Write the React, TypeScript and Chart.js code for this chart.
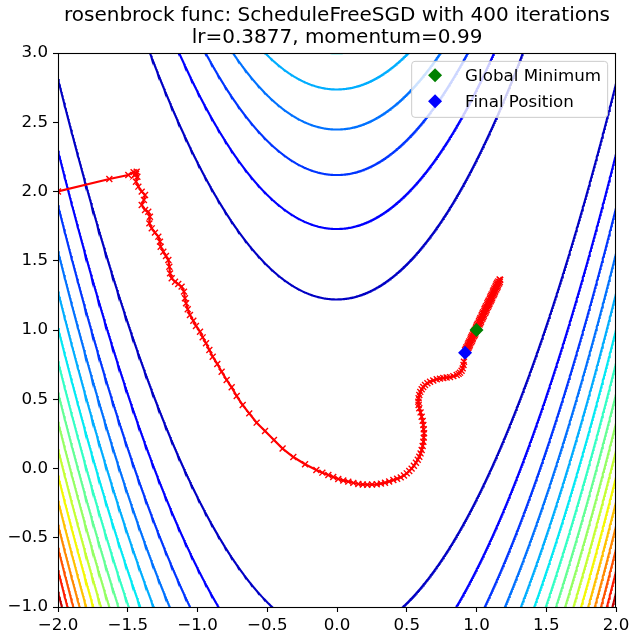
import React, { useEffect, useRef } from "react";
import { Chart, registerables } from "chart.js";

Chart.register(...registerables);

// ---- chart content ----
const TITLE_LINES = [
  "rosenbrock func: ScheduleFreeSGD with 400 iterations",
  "lr=0.3877, momentum=0.99",
];
const X_RANGE = [-2, 2];
const Y_RANGE = [-1, 3];
const TICK_STEP = 0.5;
const LEGEND_LABELS = ["Global Minimum", "Final Position"];

// contour levels of the Rosenbrock surface
const CONTOUR_LEVELS = [
  150, 300, 450, 600, 750, 900, 1050, 1200, 1350, 1500, 1650, 1800, 1950,
  2100, 2250, 2400,
];
// colour scale limits for the levels
const LEVEL_NORM = [0, 2550];

// optimiser trajectory
const PATH_X = [
  // start and descent down the left slope
  -2.0, -1.632, -1.496, -1.458, -1.44, -1.452, -1.436, -1.431, -1.441, -1.424,
  -1.4, -1.376, -1.384, -1.4, -1.376, -1.353, -1.341, -1.345, -1.328, -1.305,
  -1.281, -1.269, -1.264, -1.245, -1.226, -1.209, -1.202, -1.197, -1.185,
  -1.161, -1.138, -1.114, -1.097, -1.09, -1.082, -1.07, -1.054, -1.03, -1.011,
  -0.982, -0.963, -0.939, -0.915, -0.891, -0.858, -0.827, -0.791, -0.755,
  -0.719, -0.676, -0.629, -0.576, -0.516, -0.452, -0.39, -0.313, -0.229,
  // valley floor and S-bend
  -0.148, -0.105, -0.062, -0.027, 0.009, 0.045, 0.081, 0.117, 0.153, 0.185,
  0.217, 0.251, 0.285, 0.315, 0.344, 0.374, 0.404, 0.431, 0.457, 0.48, 0.5,
  0.518, 0.535, 0.551, 0.566, 0.579, 0.59, 0.599, 0.607, 0.614, 0.619, 0.622,
  0.624, 0.622, 0.619, 0.614, 0.607, 0.599, 0.59, 0.585, 0.583, 0.585, 0.59,
  0.597, 0.607, 0.618, 0.631, 0.648, 0.667, 0.69, 0.715, 0.738, 0.762, 0.786,
  0.81, 0.834, 0.858, 0.872, 0.882, 0.893, 0.901, 0.907, 0.91,
  // oscillation along the valley
  0.927, 0.923, 0.947, 0.943, 0.967, 0.963, 0.987, 0.983, 1.007, 1.003, 1.027,
  1.023, 1.047, 1.043, 1.067, 1.063, 1.087, 1.083, 1.107, 1.103, 1.127, 1.123,
  1.147, 1.143, 1.167, 1.166,
  1.148, 1.152, 1.128, 1.132, 1.108, 1.112, 1.088, 1.092, 1.068, 1.072, 1.048,
  1.052, 1.028, 1.032, 1.008, 1.012, 0.988, 0.992, 0.968, 0.972, 0.948, 0.952,
  0.928, 0.932,
  0.918, 0.942, 0.938, 0.962, 0.958, 0.982, 0.978, 1.002, 0.998, 1.022, 1.018,
  1.042, 1.038, 1.062, 1.058, 1.082, 1.078, 1.102, 1.098, 1.122, 1.118, 1.142,
  1.138, 1.162, 1.17,
  1.156, 1.154, 1.136, 1.134, 1.116, 1.114, 1.096, 1.094, 1.076, 1.074, 1.056,
  1.054, 1.036, 1.034, 1.016, 1.014, 0.996, 0.994, 0.976, 0.974, 0.956, 0.954,
  0.936, 0.934, 0.918,
];
const PATH_Y = [
  2.0, 2.09, 2.119, 2.14, 2.128, 2.118, 2.142, 2.107, 2.071, 2.035, 1.999,
  1.975, 1.939, 1.903, 1.866, 1.854, 1.818, 1.77, 1.734, 1.703, 1.674, 1.638,
  1.601, 1.565, 1.534, 1.505, 1.457, 1.409, 1.373, 1.349, 1.332, 1.313, 1.277,
  1.229, 1.193, 1.15, 1.108, 1.067, 1.029, 0.988, 0.947, 0.904, 0.856, 0.807,
  0.755, 0.699, 0.639, 0.586, 0.523, 0.458, 0.398, 0.331, 0.271, 0.206, 0.144,
  0.083, 0.031,
  -0.011, -0.03, -0.047, -0.062, -0.076, -0.086, -0.095, -0.104, -0.112,
  -0.115, -0.117, -0.116, -0.114, -0.109, -0.103, -0.094, -0.083, -0.074,
  -0.064, -0.05, -0.035, -0.018, -0.001, 0.02, 0.042, 0.063, 0.085, 0.109,
  0.134, 0.163, 0.193, 0.223, 0.254, 0.284, 0.314, 0.344, 0.374, 0.405, 0.435,
  0.458, 0.482, 0.507, 0.531, 0.553, 0.572, 0.589, 0.603, 0.616, 0.627, 0.636,
  0.644, 0.649, 0.653, 0.657, 0.66, 0.667, 0.675, 0.683, 0.692, 0.706, 0.723,
  0.747, 0.771,
  0.837, 0.864, 0.88, 0.907, 0.922, 0.949, 0.964, 0.992, 1.007, 1.034, 1.049,
  1.076, 1.092, 1.119, 1.134, 1.161, 1.176, 1.204, 1.219, 1.246, 1.261, 1.288,
  1.304, 1.331, 1.346, 1.364,
  1.341, 1.314, 1.299, 1.272, 1.257, 1.229, 1.214, 1.187, 1.172, 1.145, 1.129,
  1.102, 1.087, 1.06, 1.045, 1.017, 1.002, 0.975, 0.96, 0.933, 0.917, 0.89,
  0.875, 0.848,
  0.854, 0.869, 0.896, 0.911, 0.939, 0.954, 0.981, 0.996, 1.023, 1.039, 1.066,
  1.081, 1.108, 1.123, 1.151, 1.166, 1.193, 1.208, 1.235, 1.251, 1.278, 1.293,
  1.32, 1.335, 1.362,
  1.351, 1.326, 1.309, 1.283, 1.266, 1.241, 1.224, 1.199, 1.181, 1.156, 1.139,
  1.114, 1.097, 1.071, 1.054, 1.029, 1.012, 0.987, 0.969, 0.944, 0.927, 0.902,
  0.885, 0.859, 0.836,
];
const GLOBAL_MIN = { x: 1.0, y: 1.0 };

// ---- styling ----
const FONT = '"DejaVu Sans", "Liberation Sans", sans-serif';
const FONT_SIZE = 16.7;
const TITLE_SIZE = 20;
const TRAJ_COLOR = "#ff0000";
const MIN_COLOR = "#008000";
const FINAL_COLOR = "#0000ff";
const DIAMOND_R = 7;

// matplotlib "jet" colormap
const JET: Record<string, [number, number][]> = {
  r: [[0, 0], [0.35, 0], [0.66, 1], [0.89, 1], [1, 0.5]],
  g: [[0, 0], [0.125, 0], [0.375, 1], [0.64, 1], [0.91, 0], [1, 0]],
  b: [[0, 0.5], [0.11, 1], [0.34, 1], [0.65, 0], [1, 0]],
};
function jetChannel(stops: [number, number][], t: number) {
  for (let i = 1; i < stops.length; i++) {
    const [x0, y0] = stops[i - 1];
    const [x1, y1] = stops[i];
    if (t <= x1) return y0 + ((t - x0) / (x1 - x0)) * (y1 - y0);
  }
  return stops[stops.length - 1][1];
}
function jet(t: number) {
  const c = Math.max(0, Math.min(1, t));
  const r = Math.round(jetChannel(JET.r, c) * 255);
  const g = Math.round(jetChannel(JET.g, c) * 255);
  const b = Math.round(jetChannel(JET.b, c) * 255);
  return `rgb(${r},${g},${b})`;
}

// level set f(x,y)=L of f = (1-x)^2 + 100 (y - x^2)^2 -> two branches in y
function contourBranches(level: number) {
  const upper: { x: number; y: number }[] = [];
  const lower: { x: number; y: number }[] = [];
  const n = 1200;
  for (let i = 0; i <= n; i++) {
    const x = X_RANGE[0] + ((X_RANGE[1] - X_RANGE[0]) * i) / n;
    const rest = level - (1 - x) * (1 - x);
    if (rest < 0) continue;
    const s = Math.sqrt(rest / 100);
    upper.push({ x, y: x * x + s });
    lower.push({ x, y: x * x - s });
  }
  return [upper, lower];
}

const fmtTick = (v: number) => v.toFixed(1).replace("-", "\u2212");

function drawDiamond(ctx: CanvasRenderingContext2D, x: number, y: number, r: number, color: string) {
  ctx.beginPath();
  ctx.moveTo(x - r, y);
  ctx.lineTo(x, y - r);
  ctx.lineTo(x + r, y);
  ctx.lineTo(x, y + r);
  ctx.closePath();
  ctx.fillStyle = color;
  ctx.fill();
}

const framePlugin = {
  id: "frameAndTitle",
  afterDatasetsDraw(chart: any) {
    const { ctx, chartArea } = chart;
    const { left, right, top, bottom } = chartArea;
    ctx.save();
    ctx.strokeStyle = "#000";
    ctx.lineWidth = 1.1;
    ctx.strokeRect(left + 0.5, top + 0.5, right - left - 1, bottom - top);
    ctx.restore();
  },
  afterDraw(chart: any) {
    const { ctx, chartArea } = chart;
    const { left, right, top } = chartArea;
    ctx.save();
    // title
    ctx.fillStyle = "#000";
    ctx.font = `${TITLE_SIZE}px ${FONT}`;
    ctx.textAlign = "center";
    ctx.textBaseline = "alphabetic";
    const cx = (left + right) / 2;
    ctx.fillText(TITLE_LINES[0], cx, 21);
    ctx.fillText(TITLE_LINES[1], cx, 43);

    // legend (upper right, inside the axes)
    ctx.font = `${FONT_SIZE}px ${FONT}`;
    const em = FONT_SIZE;
    const pad = 0.4 * em;
    const handleLen = 2.0 * em;
    const handleTextPad = 0.8 * em;
    const rowH = 26;
    const textW = Math.max(...LEGEND_LABELS.map((t) => ctx.measureText(t).width));
    const boxW = 2 * pad + handleLen + handleTextPad + textW;
    const boxH = 56;
    const bx = right - 0.5 * em - boxW;
    const by = top + 0.5 * em;
    const rr = 0.2 * em;
    ctx.beginPath();
    ctx.moveTo(bx + rr, by);
    ctx.lineTo(bx + boxW - rr, by);
    ctx.quadraticCurveTo(bx + boxW, by, bx + boxW, by + rr);
    ctx.lineTo(bx + boxW, by + boxH - rr);
    ctx.quadraticCurveTo(bx + boxW, by + boxH, bx + boxW - rr, by + boxH);
    ctx.lineTo(bx + rr, by + boxH);
    ctx.quadraticCurveTo(bx, by + boxH, bx, by + boxH - rr);
    ctx.lineTo(bx, by + rr);
    ctx.quadraticCurveTo(bx, by, bx + rr, by);
    ctx.closePath();
    ctx.fillStyle = "rgba(255,255,255,0.8)";
    ctx.fill();
    ctx.strokeStyle = "#cccccc";
    ctx.lineWidth = 1;
    ctx.stroke();

    const colors = [MIN_COLOR, FINAL_COLOR];
    ctx.textAlign = "left";
    ctx.textBaseline = "middle";
    LEGEND_LABELS.forEach((label, i) => {
      const rowY = by + 14 + i * rowH;
      drawDiamond(ctx, bx + pad + handleLen / 2, rowY, DIAMOND_R, colors[i]);
      ctx.fillStyle = "#000";
      ctx.fillText(label, bx + pad + handleLen + handleTextPad, rowY + 1);
    });
    ctx.restore();
  },
};

export default function App() {
  const canvasRef = useRef<HTMLCanvasElement | null>(null);

  useEffect(() => {
    document.body.style.margin = "0";
    document.body.style.overflow = "hidden";
    const canvas = canvasRef.current;
    if (!canvas) return;

    const contourSets: any[] = [];
    CONTOUR_LEVELS.forEach((level) => {
      const color = jet((level - LEVEL_NORM[0]) / (LEVEL_NORM[1] - LEVEL_NORM[0]));
      contourBranches(level).forEach((branch) => {
        contourSets.push({
          data: branch,
          showLine: true,
          borderColor: color,
          borderWidth: 2.1,
          pointRadius: 0,
          pointHoverRadius: 0,
          clip: 0,
          order: 3,
        });
      });
    });

    const path = PATH_X.map((x, i) => ({ x, y: PATH_Y[i] }));
    const finalPos = path[path.length - 1];

    const chart = new Chart(canvas, {
      type: "scatter",
      data: {
        datasets: [
          {
            label: LEGEND_LABELS[0],
            data: [GLOBAL_MIN],
            pointStyle: "rectRot",
            pointRadius: DIAMOND_R,
            pointBackgroundColor: MIN_COLOR,
            pointBorderWidth: 0,
            order: 0,
          },
          {
            label: LEGEND_LABELS[1],
            data: [finalPos],
            pointStyle: "rectRot",
            pointRadius: DIAMOND_R,
            pointBackgroundColor: FINAL_COLOR,
            pointBorderWidth: 0,
            order: 1,
          },
          {
            data: path,
            showLine: true,
            borderColor: TRAJ_COLOR,
            borderWidth: 2.2,
            pointStyle: "crossRot",
            pointRadius: 4.2,
            pointBorderColor: TRAJ_COLOR,
            pointBackgroundColor: TRAJ_COLOR,
            pointBorderWidth: 1.4,
            clip: 0,
            order: 2,
          },
          ...contourSets,
        ],
      } as any,
      options: {
        responsive: false,
        animation: false,
        devicePixelRatio: 1,
        events: [],
        layout: {
          autoPadding: false,
          padding: { top: 53, right: 19, left: 0, bottom: 0 },
        },
        plugins: {
          legend: { display: false },
          tooltip: { enabled: false },
          title: { display: false },
        },
        scales: {
          x: {
            type: "linear",
            min: X_RANGE[0],
            max: X_RANGE[1],
            afterFit: (s: any) => {
              s.height = 36;
            },
            ticks: {
              stepSize: TICK_STEP,
              color: "#000",
              padding: 4,
              font: { family: FONT, size: FONT_SIZE },
              callback: (v: any) => fmtTick(Number(v)),
              maxRotation: 0,
            },
            grid: {
              drawOnChartArea: false,
              drawTicks: true,
              tickLength: 5,
              tickColor: "#000",
              tickWidth: 1.1,
            },
            border: { display: false },
          },
          y: {
            type: "linear",
            min: Y_RANGE[0],
            max: Y_RANGE[1],
            afterFit: (s: any) => {
              s.width = 58;
            },
            ticks: {
              stepSize: TICK_STEP,
              color: "#000",
              padding: 5,
              font: { family: FONT, size: FONT_SIZE },
              callback: (v: any) => fmtTick(Number(v)),
            },
            grid: {
              drawOnChartArea: false,
              drawTicks: true,
              tickLength: 5,
              tickColor: "#000",
              tickWidth: 1.1,
            },
            border: { display: false },
          },
        },
      } as any,
      plugins: [framePlugin],
    });

    return () => {
      chart.destroy();
    };
  }, []);

  return (
    <canvas
      ref={canvasRef}
      width={635}
      height={643}
      style={{ display: "block", width: 635, height: 643 }}
    />
  );
}
